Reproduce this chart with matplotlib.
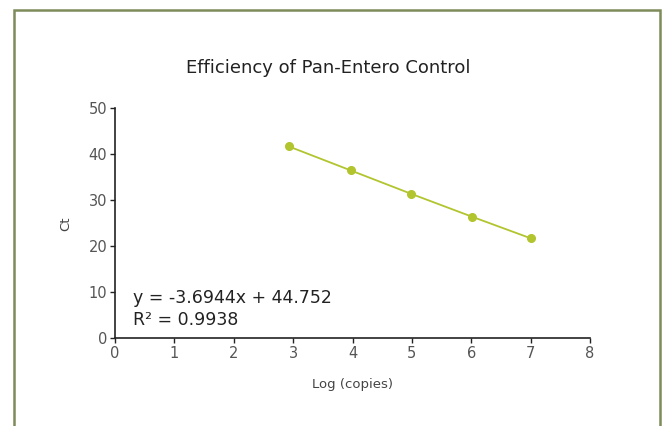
import matplotlib
matplotlib.use("Agg")
import matplotlib.pyplot as plt
from matplotlib.patches import Rectangle

# Data
log_copies = [2.93, 3.97, 4.99, 6.02, 7.01]
ct_values = [41.7, 36.5, 31.4, 26.4, 21.7]
x_ticks = [0, 1, 2, 3, 4, 5, 6, 7, 8]
y_ticks = [0, 10, 20, 30, 40, 50]
title = "Efficiency of Pan-Entero Control"
equation = "y = -3.6944x + 44.752"
r2_text = "R² = 0.9938"

plt.rcParams['font.family'] = ['DejaVu Sans']

W, H = 663, 426
fig = plt.figure(figsize=(W / 100, H / 100), dpi=100)
ax = fig.add_axes([115 / W, 1 - 338.3 / H, (590 - 115) / W, (338.3 - 108.3) / H])

line_color = "#b2c42e"
ax.plot(log_copies, ct_values, color=line_color, lw=1.3, marker="o", ms=5.5,
        markerfacecolor=line_color, markeredgecolor=line_color, clip_on=False)

ax.set_xlim(0, 8)
ax.set_ylim(0, 50)
ax.set_xticks(x_ticks)
ax.set_yticks(y_ticks)
for s in ("top", "right"):
    ax.spines[s].set_visible(False)
for s in ("left", "bottom"):
    ax.spines[s].set_color("#222222")
    ax.spines[s].set_linewidth(1.2)
ax.tick_params(axis="both", direction="out", length=3.5, width=1, color="#222222",
               labelsize=10.5, labelcolor="#555555", pad=2)

ax.set_xlabel("Log (copies)", fontsize=9.5, color="#444444", labelpad=12)
ax.set_ylabel("Ct", fontsize=9.5, color="#444444", labelpad=12)

fig.text(328 / W, 1 - 68 / H, title, ha="center", va="center", fontsize=13,
         color="#222222")

ax.text(0.30, 7.7, equation, fontsize=12.5, color="#222222", va="baseline", ha="left")
ax.text(0.30, 2.9, r2_text, fontsize=12.5, color="#222222", va="baseline", ha="left")

border = Rectangle((13.5 / W, -0.2), (659.5 - 13.5) / W, 1.2 - 9.5 / H,
                   transform=fig.transFigure, fill=False, edgecolor="#7d8c5a",
                   lw=1.8, clip_on=False)
fig.patches.append(border)

fig.savefig("out.png", dpi=100)
